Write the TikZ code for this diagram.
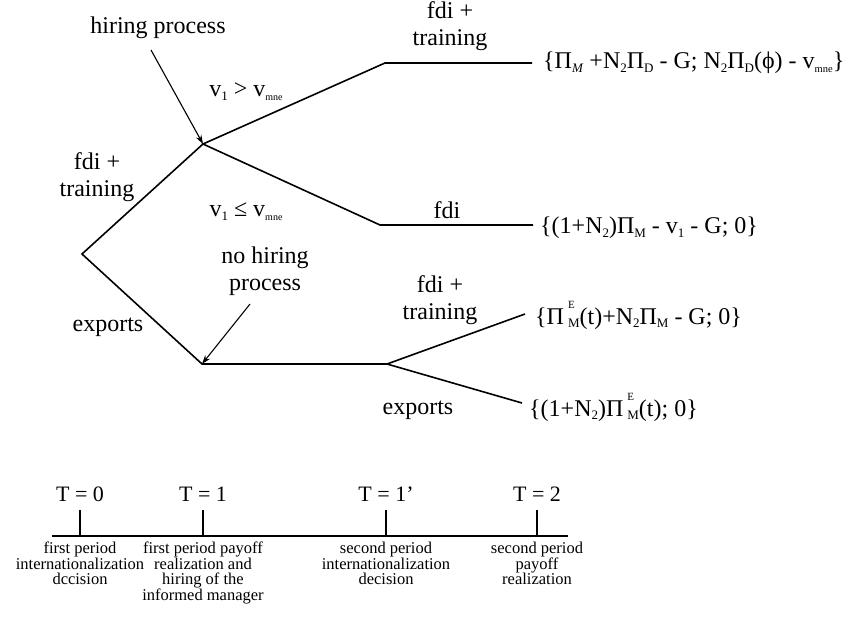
\documentclass[tikz,border=0pt]{standalone}
\usepackage{fontspec}
\setmainfont{Liberation Serif}
\usetikzlibrary{arrows.meta}
\newcommand\lsub[1]{\raisebox{-0.35ex}{\fontsize{13}{13}\selectfont #1}}
\newcommand\lsupsub[2]{\rlap{\raisebox{1.45ex}{\fontsize{11}{11}\selectfont #1}}\raisebox{-0.35ex}{\fontsize{13}{13}\selectfont #2}}
\begin{document}
\begin{tikzpicture}[x=1pt,y=-1pt,
  br/.style={line width=1.6pt},
  arr/.style={line width=1.1pt,-{Stealth[length=9pt,width=6pt]}},
  lbl/.style={font=\fontsize{24}{27}\selectfont,align=center,inner sep=0pt},
  pay/.style={font=\fontsize{24}{27}\selectfont,inner sep=0pt,anchor=west},
  tlab/.style={font=\fontsize{22}{26}\selectfont,inner sep=0pt},
  tdesc/.style={font=\fontsize{16.5}{15.5}\selectfont,align=center,inner sep=0pt,anchor=north}]
\useasboundingbox (0,0) rectangle (854,619);
% tree nodes
\coordinate (R) at (82,254);
\coordinate (A) at (203,144);
\coordinate (B) at (202,364);
\coordinate (A1) at (385,63);
\coordinate (A1e) at (532,63);
\coordinate (A2) at (380,225);
\coordinate (A2e) at (533,225);
\coordinate (C) at (387,364);
\coordinate (C1) at (525,314);
\coordinate (C2) at (522,403);
\draw[br] (A) -- (R) -- (B) -- (C);
\draw[br] (A1e) -- (A1) -- (A) -- (A2) -- (A2e);
\draw[br] (C1) -- (C) -- (C2);
% labels
\node[lbl] (hp) at (158,28) {hiring process};
\coordinate (hpA) at (151,50);
\draw[arr] (hpA) -- (A);
\node[lbl] (ft1) at (97,177) {fdi +\\training};
\node[lbl] (ex1) at (108,327) {exports};
\node[lbl] (nhp) at (265,271) {no hiring\\process};
\coordinate (nhpA) at (250,304);
\draw[arr] (nhpA) -- (B);
\node[lbl] (vgt) at (246,92) {v\lsub{1} > v\lsub{\fontsize{10}{10}\selectfont mne}};
\node[lbl] (vle) at (246,212) {v\lsub{1} ≤ v\lsub{\fontsize{10}{10}\selectfont mne}};
\node[lbl] (ft2) at (450,26) {fdi +\\training};
\node[lbl] (fdi) at (447,210) {fdi};
\node[lbl] (ft3) at (440,300) {fdi +\\training};
\node[lbl] (ex2) at (418,410) {exports};
% payoffs
\node[pay] (p1) at (543,63) {\{Π\lsub{\textit{M}} +N\lsub{2}Π\lsub{D} - G; N\lsub{2}Π\lsub{D}(ϕ) - v\lsub{\fontsize{10.5}{10.5}\selectfont mne}\}};
\node[pay] (p2) at (540,228) {\{(1+N\lsub{2})Π\lsub{M} - v\lsub{1} - G; 0\}};
\node[pay] (p3) at (535,315) {\{Π\,\lsupsub{E}{M}(t)+N\lsub{2}Π\lsub{M} - G; 0\}};
\node[pay] (p4) at (529,407) {\{(1+N\lsub{2})Π\,\lsupsub{E}{M}(t); 0\}};
% timeline
\coordinate (L0) at (52,536);
\coordinate (L1) at (568,536);
\draw[br] (L0) -- (L1);
\foreach \x/\n in {80/0,203/1,386/2,537/3}{
  \coordinate (tk\n) at (\x,536);
  \coordinate (tt\n) at (\x,510);
  \draw[br] (tk\n) -- (tt\n);
}
\node[tlab] (T0) at (80,494) {T = 0};
\node[tlab] (T1) at (203,494) {T = 1};
\node[tlab] (T2) at (386,494) {T = 1\symbol{39}};
\node[tlab] (T3) at (537,494) {T = 2};
\node[tdesc] (d0) at (80,542) {first period\\internationalization\\dccision};
\node[tdesc] (d1) at (203,542) {first period payoff\\realization and\\hiring of the\\informed manager};
\node[tdesc] (d2) at (386,542) {second period\\internationalization\\decision};
\node[tdesc] (d3) at (537,542) {second period\\payoff\\realization};
\end{tikzpicture}
\end{document}
